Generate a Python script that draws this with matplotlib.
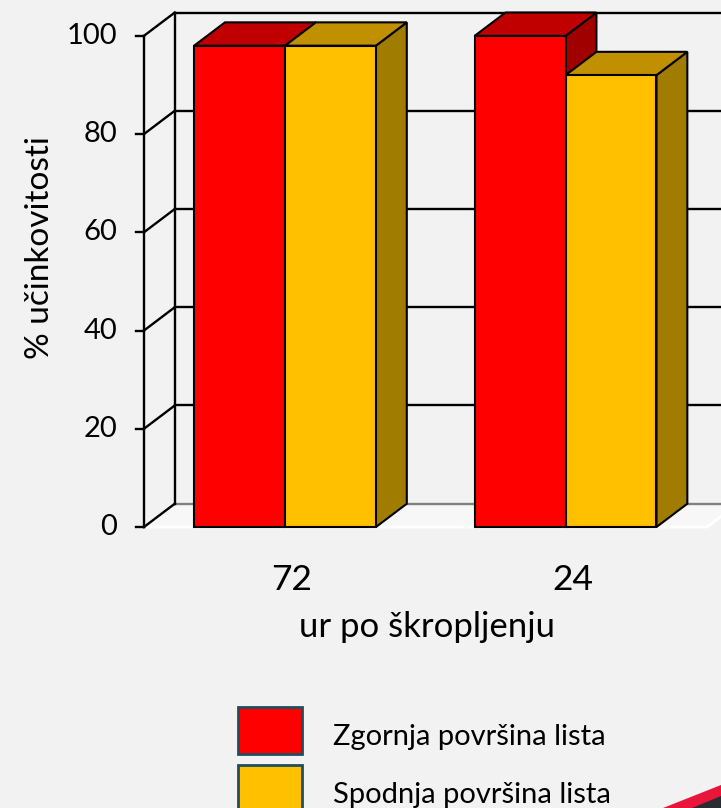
import numpy as np
import matplotlib.pyplot as plt
from matplotlib.patches import Polygon, Rectangle

# data
groups = ["72", "24"]
series = ["Zgornja površina lista", "Spodnja površina lista"]
zgornja = [98, 100]
spodnja = [98, 92]
yticks = [0, 20, 40, 60, 80, 100]

front_col = ["#FF0000", "#FFC000"]
top_col = ["#C00000", "#C09000"]
side_col = ["#A00000", "#A07C00"]
bg = "#F2F2F2"

W, H = 721, 808
fig = plt.figure(figsize=(W / 100, H / 100), dpi=100)
fig.patch.set_facecolor(bg)
ax = fig.add_axes([0, 0, 1, 1])
ax.set_xlim(-1.016, 1.554)
ax.set_ylim(-57.2, 107.3)
ax.axis("off")

font = "Lato"
bw = 0.324            # bar width
dx, dy = 0.11, 4.75   # depth offset of the fake 3d
xl = -0.503           # left axis (front)
xr = 1.504            # right end of floor (front)

# floor
ax.add_patch(Polygon([(xl, 0), (xr, 0), (xr + dx, dy), (xl + dx, dy)],
                     closed=True, facecolor="#F7F7F7", edgecolor="none", zorder=1))
ax.plot([xl, xr, xr + dx], [0, 0, dy], color="white", lw=2, zorder=1.5)

# back wall gridlines, side wall diagonals, ticks
for v in yticks:
    c = "#808080" if v == 0 else "black"
    ax.plot([xl + dx, xr + dx + 0.2], [v + dy, v + dy], color=c, lw=1.7, zorder=2)
    ax.plot([xl, xl + dx], [v, v + dy], color="black", lw=1.7, zorder=2)
    ax.plot([xl - 0.028, xl], [v, v], color="black", lw=1.7, zorder=2)
    ax.text(xl - 0.095, v, str(v), ha="right", va="center", fontsize=21,
            family=font)
ax.plot([xl, xl], [0, 100], color="black", lw=1.7, zorder=2)
ax.plot([xl + dx, xl + dx], [dy, 100 + dy], color="black", lw=1.7, zorder=2)

# bars
z = 3
for i in range(len(groups)):
    for j, vals in enumerate([zgornja, spodnja]):
        v = vals[i]
        x0 = i - bw + j * bw
        ax.add_patch(Polygon([(x0 + bw, 0), (x0 + bw + dx, dy), (x0 + bw + dx, v + dy), (x0 + bw, v)],
                             closed=True, facecolor=side_col[j], edgecolor="black", lw=1.5, zorder=z))
        ax.add_patch(Polygon([(x0, v), (x0 + bw, v), (x0 + bw + dx, v + dy), (x0 + dx, v + dy)],
                             closed=True, facecolor=top_col[j], edgecolor="black", lw=1.5, zorder=z))
        ax.add_patch(Rectangle((x0, 0), bw, v, facecolor=front_col[j], edgecolor="black",
                               lw=1.5, zorder=z + 0.5))
        z += 1
    ax.text(i + 0.025, -10.8, groups[i], ha="center", va="center", fontsize=25.5, family=font)

fig.text(427 / W, 1 - 627 / H, "ur po škropljenju", ha="center", va="center",
         fontsize=25, family=font)
fig.text(40 / W, 1 - 248 / H, "% učinkovitosti", ha="center", va="center",
         rotation=90, fontsize=24, family=font)

# legend
for j, name in enumerate(series):
    y_top = 707 + j * 58
    fig.add_artist(Rectangle((238 / W, 1 - (y_top + 47) / H), 64 / W, 47 / H,
                             transform=fig.transFigure, facecolor=front_col[j],
                             edgecolor="#1F4E5F", lw=2))
    fig.text(333 / W, 1 - (y_top + 30) / H, name, ha="left", va="center",
             fontsize=21, family=font)

# corner decoration
fig.add_artist(Polygon([(663 / W, 0), (1, 23 / H), (1, 0)], closed=True,
                       transform=fig.transFigure, facecolor="#E8173A", edgecolor="none"))
fig.add_artist(Polygon([(692 / W, 0), (1, 12 / H), (1, 0)], closed=True,
                       transform=fig.transFigure, facecolor="#2B2B33", edgecolor="none"))

fig.savefig("out.png", dpi=100, facecolor=bg)
